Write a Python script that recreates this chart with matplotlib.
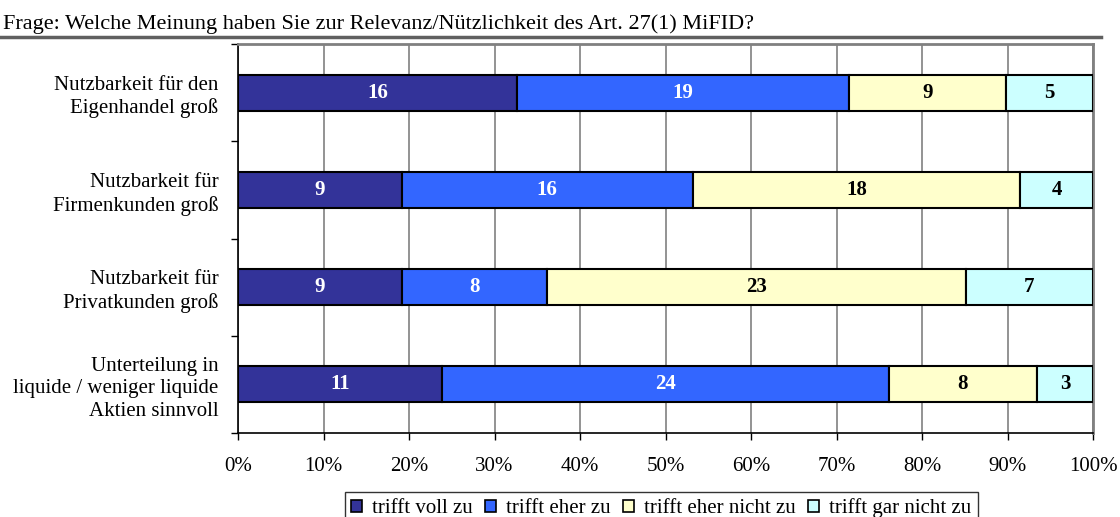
import matplotlib
matplotlib.use("Agg")
import matplotlib.pyplot as plt
from matplotlib.patches import Patch
from matplotlib.lines import Line2D
import numpy as np

plt.rcParams['font.family'] = ['Liberation Serif', 'DejaVu Serif']

title = "Frage: Welche Meinung haben Sie zur Relevanz/Nützlichkeit des Art. 27(1) MiFID?"
categories = [
    "Nutzbarkeit für den\nEigenhandel groß",
    "Nutzbarkeit für\nFirmenkunden groß",
    "Nutzbarkeit für\nPrivatkunden groß",
    "Unterteilung in\nliquide / weniger liquide\nAktien sinnvoll",
]
series_names = ["trifft voll zu", "trifft eher zu", "trifft eher nicht zu", "trifft gar nicht zu"]
trifft_voll_zu = [16, 9, 9, 11]
trifft_eher_zu = [19, 16, 8, 24]
trifft_eher_nicht_zu = [9, 18, 23, 8]
trifft_gar_nicht_zu = [5, 4, 7, 3]
xtick_labels = ["0%", "10%", "20%", "30%", "40%", "50%", "60%", "70%", "80%", "90%", "100%"]

colors = ["#333399", "#3366FF", "#FFFFCC", "#CCFFFF"]
text_colors = ["white", "white", "black", "black"]

counts = np.array([trifft_voll_zu, trifft_eher_zu, trifft_eher_nicht_zu, trifft_gar_nicht_zu], dtype=float)
totals = counts.sum(axis=0)
pct = counts / totals * 100

W, H = 1120, 517
fig = plt.figure(figsize=(W / 100, H / 100), dpi=100)
ax = fig.add_axes([238 / W, 1 - 433 / H, (1093 - 238) / W, (433 - 44) / H])

y = np.arange(len(categories))
left = np.zeros(len(categories))
for i in range(len(series_names)):
    bars = ax.barh(y, pct[i], left=left, height=0.37, color=colors[i],
                   edgecolor="black", linewidth=1.5, label=series_names[i], zorder=3)
    for j, b in enumerate(bars):
        ax.text(left[j] + pct[i][j] / 2, y[j], f"{int(counts[i][j])}",
                ha="center", va="center", fontsize=15, fontweight="bold",
                color=text_colors[i], zorder=4)
    left += pct[i]

ax.set_xlim(0, 100)
ax.set_ylim(len(categories) - 0.5, -0.5)
ax.set_xticks(np.arange(0, 101, 10))
ax.set_xticklabels(xtick_labels, fontsize=15)
ax.set_yticks(y)
ax.set_yticklabels(categories, fontsize=15, ha="right", multialignment="right", linespacing=1.25)
ax.set_yticks(np.arange(-0.5, len(categories), 1), minor=True)
ax.tick_params(axis="y", which="major", length=0, pad=14)
ax.tick_params(axis="y", which="minor", length=5, width=1, direction="out", color="black")
ax.tick_params(axis="x", which="major", length=5, width=1, direction="out", pad=12, color="black")
ax.grid(axis="x", color="#808080", linewidth=1.2, zorder=0)
ax.set_axisbelow(True)
for s in ["top", "right"]:
    ax.spines[s].set_color("#808080")
    ax.spines[s].set_linewidth(2)
for s in ["left", "bottom"]:
    ax.spines[s].set_color("black")
    ax.spines[s].set_linewidth(1.2)

fig.text(3 / W, 1 - 29 / H, title, fontsize=16, ha="left", va="baseline")
fig.add_artist(Line2D([0, 1101 / W], [1 - 37 / H, 1 - 37 / H], color="#606060", linewidth=2.5,
                      transform=fig.transFigure))

handles = [Patch(facecolor=c, edgecolor="black", linewidth=1.2) for c in colors]
leg = fig.legend(handles, series_names, loc="upper left",
                 bbox_to_anchor=(345 / W, 1 - 492 / H), bbox_transform=fig.transFigure,
                 ncol=4, fontsize=15, frameon=True, fancybox=False, borderaxespad=0,
                 handlelength=0.5, handleheight=0.5, handletextpad=0.5, columnspacing=0.6,
                 borderpad=0.3)
leg.get_frame().set_edgecolor("black")
leg.get_frame().set_linewidth(1.0)

fig.savefig("out.png", dpi=100)
